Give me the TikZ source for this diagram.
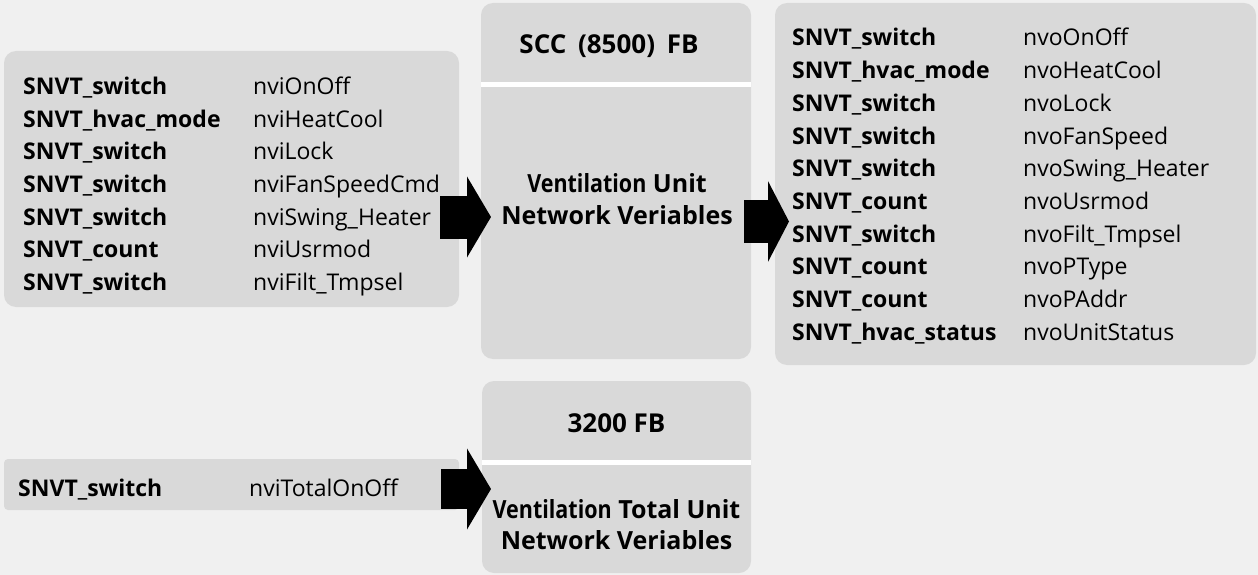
\documentclass[tikz,border=0pt]{standalone}
\usepackage{fontspec}
\usepackage{graphicx}
\setmainfont{Open Sans}
\usetikzlibrary{arrows.meta}
\definecolor{bgc}{HTML}{F0F0F0}
\definecolor{boxc}{HTML}{D9D9D9}
\tikzset{
  box/.style={fill=boxc, draw=none, rounded corners=12pt, inner sep=0pt},
  lab/.style={anchor=base west, inner sep=0pt, font=\fontsize{23}{27}\selectfont\bfseries},
  val/.style={anchor=base west, inner sep=0pt, font=\fontsize{23}{27}\selectfont},
  head/.style={anchor=base, inner sep=0pt, font=\fontsize{25}{30}\selectfont\bfseries},
  title/.style={anchor=base, inner sep=0pt, font=\fontsize{26}{30}\selectfont\bfseries},
  divider/.style={white, line width=5pt},
  blockarrow/.style={line width=#1, -{Triangle[width=80pt,length=24pt]}},
}
\newcommand{\cond}[1]{\scalebox{0.86}[1]{#1}}
\begin{document}
\begin{tikzpicture}[x=1pt,y=-1pt]
\useasboundingbox[fill=bgc] (0,0) rectangle (1258,575);
% boxes
\node[box, minimum width=455pt, minimum height=256pt] (inL) at (231.5,179) {};
\node[box, minimum width=270pt, minimum height=356pt] (scc) at (616,181) {};
\node[box, minimum width=481pt, minimum height=362pt] (outR) at (1015.5,184) {};
\node[box, rounded corners=4pt, minimum width=455pt, minimum height=51pt] (inB) at (231.5,484.5) {};
\node[box, minimum width=269pt, minimum height=192pt] (tot) at (616.5,477) {};
% dividers
\draw[divider] (scc.west |- 0,84.5) -- (scc.east |- 0,84.5);
\draw[divider] (tot.west |- 0,462.5) -- (tot.east |- 0,462.5);
% center texts
\node[title] (sccH) at (609,54) {SCC\hspace{0.45em}(8500)\hspace{0.45em}FB};
\node[head] (sccB1) at (617,192) {\cond{Ventilation} Unit};
\node[head] (sccB2) at (617,224) {Network Veriables};
\node[title] (totH) at (616.5,432) {3200 FB};
\node[head] (totB1) at (616.5,518) {\cond{Ventilation} Total Unit};
\node[head] (totB2) at (616.5,549) {Network Veriables};
% input list
\foreach \t/\v [count=\i from 0] in {
  SNVT\_switch/nviOnOff, SNVT\_hvac\_mode/nviHeatCool, SNVT\_switch/nviLock,
  SNVT\_switch/nviFanSpeedCmd, SNVT\_switch/nviSwing\_Heater, SNVT\_count/nviUsrmod,
  SNVT\_switch/nviFilt\_Tmpsel}{
  \node[lab] (il\i) at (23,95+32.5*\i) {\t};
  \node[val] (iv\i) at (253,95+32.5*\i) {\v};
}
% output list
\foreach \t/\v [count=\i from 0] in {
  SNVT\_switch/nvoOnOff, SNVT\_hvac\_mode/nvoHeatCool, SNVT\_switch/nvoLock,
  SNVT\_switch/nvoFanSpeed, SNVT\_switch/nvoSwing\_Heater, SNVT\_count/nvoUsrmod,
  SNVT\_switch/nvoFilt\_Tmpsel, SNVT\_count/nvoPType, SNVT\_count/nvoPAddr,
  SNVT\_hvac\_status/nvoUnitStatus}{
  \node[lab] (ol\i) at (792,46+32.7*\i) {\t};
  \node[val] (ov\i) at (1023,46+32.7*\i) {\v};
}
% bottom input
\node[lab] (bl) at (18,496) {SNVT\_switch};
\node[val] (bv) at (249,496) {nviTotalOnOff};
% arrows
\coordinate (a1s) at (440,217);
\coordinate (a1e) at (491,217);
\coordinate (a2s) at (744,221.5);
\coordinate (a2e) at (789,221.5);
\coordinate (a3s) at (441,489);
\coordinate (a3e) at (491,489);
\draw[blockarrow=43pt] (a1s) -- (a1e);
\draw[blockarrow=43pt, -{Triangle[width=80pt,length=21pt]}] (a2s) -- (a2e);
\draw[blockarrow=40pt] (a3s) -- (a3e);
\end{tikzpicture}
\end{document}
